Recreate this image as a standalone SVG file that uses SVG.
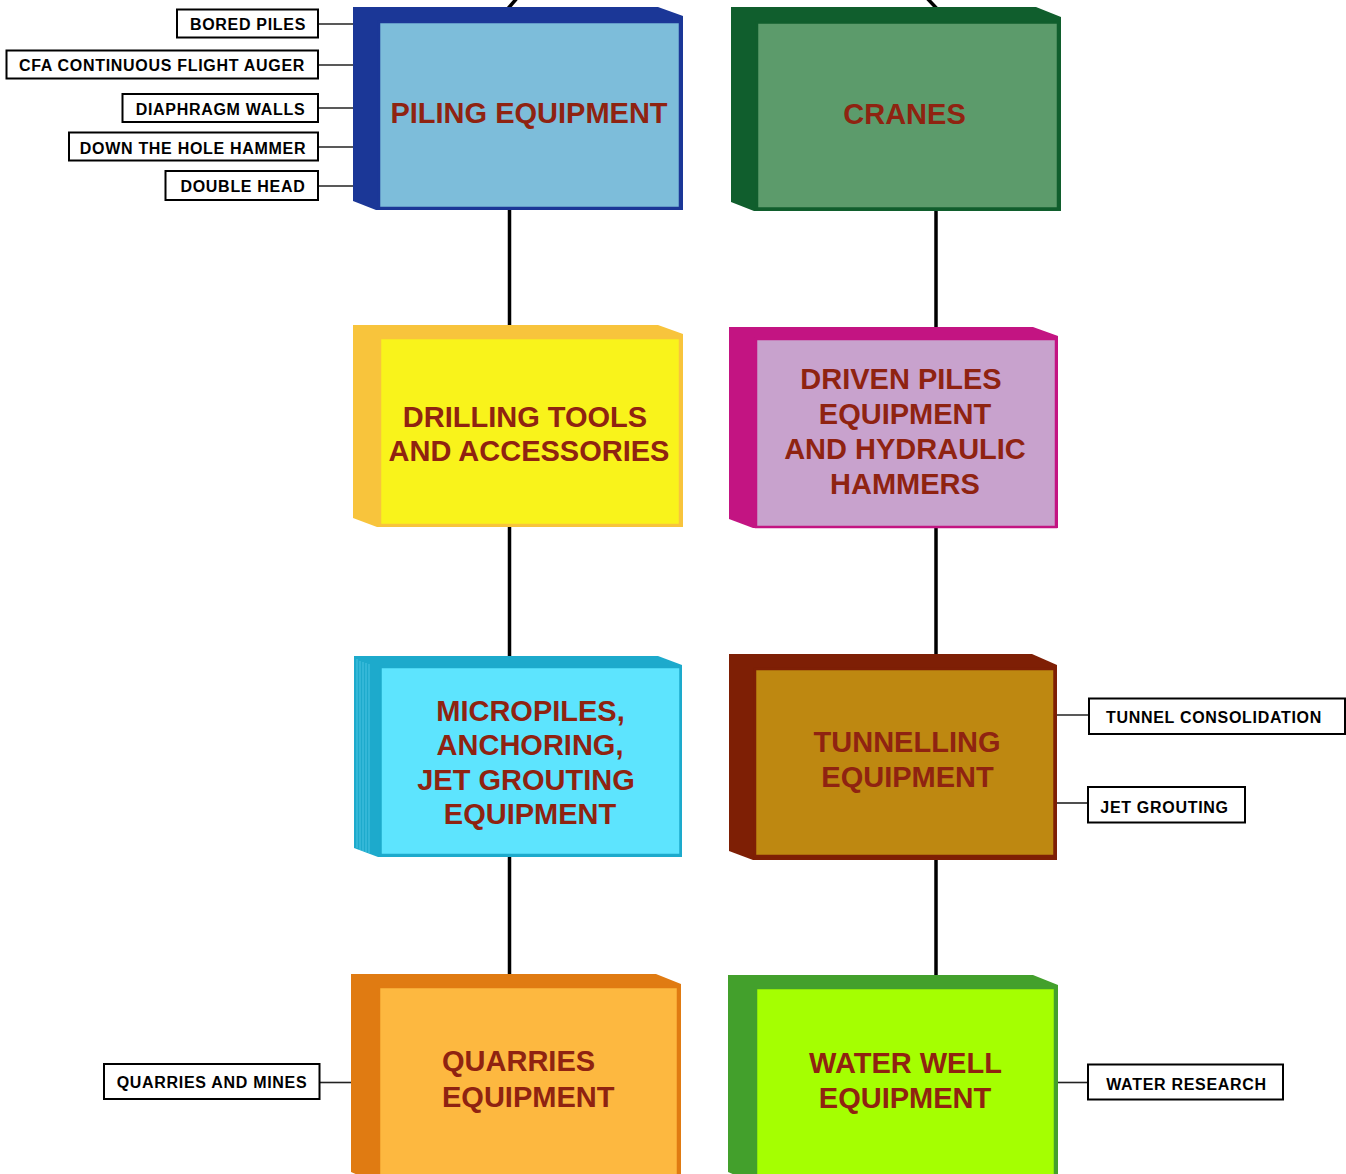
<svg xmlns="http://www.w3.org/2000/svg" width="1346" height="1174" viewBox="0 0 1346 1174">
<style>
.t{font-family:"Liberation Sans",Arial,sans-serif;font-weight:bold;font-size:29px;fill:#8F2311;text-anchor:middle}
.l{font-family:"Liberation Sans",Arial,sans-serif;font-weight:bold;font-size:16px;letter-spacing:0.7px;fill:#000;text-anchor:middle}
.lb{fill:#fff;stroke:#000;stroke-width:2}
.c{stroke:#000;stroke-width:3.5;fill:none}
.cl{stroke:#222;stroke-width:1.6;fill:none}
</style>
<rect width="1346" height="1174" fill="#fff"/>
<g id="connectors">
<line class="c" x1="505" y1="12" x2="518" y2="-3"/>
<line class="c" x1="940" y1="12" x2="926" y2="-3"/>
<line class="c" x1="509.5" y1="200" x2="509.5" y2="340"/>
<line class="c" x1="509.5" y1="520" x2="509.5" y2="670"/>
<line class="c" x1="509.5" y1="850" x2="509.5" y2="990"/>
<line class="c" x1="936" y1="200" x2="936" y2="340"/>
<line class="c" x1="936" y1="520" x2="936" y2="670"/>
<line class="c" x1="936" y1="850" x2="936" y2="990"/>
<line class="cl" x1="318" y1="24" x2="354" y2="24"/>
<line class="cl" x1="318" y1="65" x2="354" y2="65"/>
<line class="cl" x1="318" y1="108" x2="354" y2="108"/>
<line class="cl" x1="318" y1="147" x2="354" y2="147"/>
<line class="cl" x1="318" y1="186" x2="354" y2="186"/>
<line class="cl" x1="1056" y1="715" x2="1089" y2="715"/>
<line class="cl" x1="1056" y1="803" x2="1088" y2="803"/>
<line class="cl" x1="320" y1="1082.5" x2="352" y2="1082.5"/>
<line class="cl" x1="1056" y1="1082.5" x2="1088" y2="1082.5"/>
</g>
<g id="piling">
<polygon points="353,7 658,7 683,16 683,210 376,210 353,201" fill="#1B3797"/>
<rect x="379" y="22" width="301" height="186" fill="#7DBDDA" stroke="#1B3797" stroke-width="2.5"/>
<text class="t" x="529" y="123">PILING EQUIPMENT</text>
</g>
<g id="cranes">
<polygon points="731,7 1036,7 1061,17 1061,211 754,211 731,202" fill="#105E2D"/>
<rect x="757" y="22.5" width="301" height="186" fill="#5C9B6B" stroke="#105E2D" stroke-width="2.5"/>
<text class="t" x="904.5" y="123.5">CRANES</text>
</g>
<g id="drilling">
<polygon points="353,325 658,325 683,334 683,527 377,527 353,518" fill="#F8C43C"/>
<rect x="380" y="338" width="300" height="187" fill="#F9F31B" stroke="#F8C43C" stroke-width="2.5"/>
<text class="t" x="525" y="427">DRILLING TOOLS</text>
<text class="t" x="529" y="461">AND ACCESSORIES</text>
</g>
<g id="driven">
<polygon points="729,327 1033,327 1058,336 1058,528 753,528 729,519" fill="#C31482"/>
<rect x="756" y="339" width="300" height="188" fill="#C8A2CD" stroke="#C31482" stroke-width="2.5"/>
<text class="t" x="901" y="389">DRIVEN PILES</text>
<text class="t" x="905" y="424">EQUIPMENT</text>
<text class="t" x="905" y="459">AND HYDRAULIC</text>
<text class="t" x="905" y="494">HAMMERS</text>
</g>
<g id="micropiles">
<polygon points="354,656 658,656 682,665 682,857 378,857 354,848" fill="#1DAACC"/>
<g stroke="#55CCE8" stroke-width="0.8">
<line x1="357" y1="659" x2="357" y2="848"/>
<line x1="360" y1="661" x2="360" y2="850"/>
<line x1="363" y1="662" x2="363" y2="851"/>
<line x1="366" y1="663" x2="366" y2="852"/>
<line x1="369" y1="664" x2="369" y2="853"/>
</g>
<rect x="380.5" y="667" width="300" height="188" fill="#5DE4FE" stroke="#1DAACC" stroke-width="2.5"/>
<text class="t" x="530.5" y="721">MICROPILES,</text>
<text class="t" x="530" y="755">ANCHORING,</text>
<text class="t" x="526" y="790">JET GROUTING</text>
<text class="t" x="530" y="824">EQUIPMENT</text>
</g>
<g id="tunnelling">
<polygon points="729,654 1032,654 1057,665 1057,860 753,860 729,851" fill="#7E1F05"/>
<rect x="755" y="669" width="299.5" height="187" fill="#BE8811" stroke="#7E1F05" stroke-width="2.5"/>
<text class="t" x="907" y="752">TUNNELLING</text>
<text class="t" x="907.5" y="787">EQUIPMENT</text>
</g>
<g id="quarries">
<polygon points="351,974 656,974 681,984 681,1182 374,1182 351,1172" fill="#E07B12"/>
<rect x="379" y="987" width="299" height="200" fill="#FDB840" stroke="#E07B12" stroke-width="2.5"/>
<text class="t" x="442" y="1071" style="text-anchor:start">QUARRIES</text>
<text class="t" x="442" y="1107" style="text-anchor:start">EQUIPMENT</text>
</g>
<g id="waterwell">
<polygon points="728,975 1033,975 1058,985 1058,1182 751,1182 728,1172" fill="#43A02C"/>
<rect x="756" y="988" width="299" height="200" fill="#A5FF01" stroke="#43A02C" stroke-width="2.5"/>
<text class="t" x="905.5" y="1073">WATER WELL</text>
<text class="t" x="905" y="1108">EQUIPMENT</text>
</g>
<g id="lbl-bored"><rect class="lb" x="177" y="9.5" width="141" height="28"/><text class="l" x="248" y="29.5">BORED PILES</text></g>
<g id="lbl-cfa"><rect class="lb" x="6.5" y="50.5" width="311.5" height="28"/><text class="l" x="162" y="71">CFA CONTINUOUS FLIGHT AUGER</text></g>
<g id="lbl-diaphragm"><rect class="lb" x="122.5" y="94" width="195.5" height="28"/><text class="l" x="220.5" y="114.5">DIAPHRAGM WALLS</text></g>
<g id="lbl-dth"><rect class="lb" x="69" y="132.5" width="249" height="28"/><text class="l" x="193" y="153.5">DOWN THE HOLE HAMMER</text></g>
<g id="lbl-double"><rect class="lb" x="165.5" y="171" width="152.5" height="29"/><text class="l" x="243" y="192">DOUBLE HEAD</text></g>
<g id="lbl-tunnelcons"><rect class="lb" x="1089" y="698.5" width="256" height="35.5"/><text class="l" x="1214" y="722.5">TUNNEL CONSOLIDATION</text></g>
<g id="lbl-jet"><rect class="lb" x="1088" y="787" width="157" height="35.5"/><text class="l" x="1164.5" y="813">JET GROUTING</text></g>
<g id="lbl-quarriesmines"><rect class="lb" x="104" y="1064" width="215.5" height="35"/><text class="l" x="212" y="1088">QUARRIES AND MINES</text></g>
<g id="lbl-waterresearch"><rect class="lb" x="1088" y="1064.5" width="195" height="35"/><text class="l" x="1186.5" y="1090">WATER RESEARCH</text></g>
</svg>
